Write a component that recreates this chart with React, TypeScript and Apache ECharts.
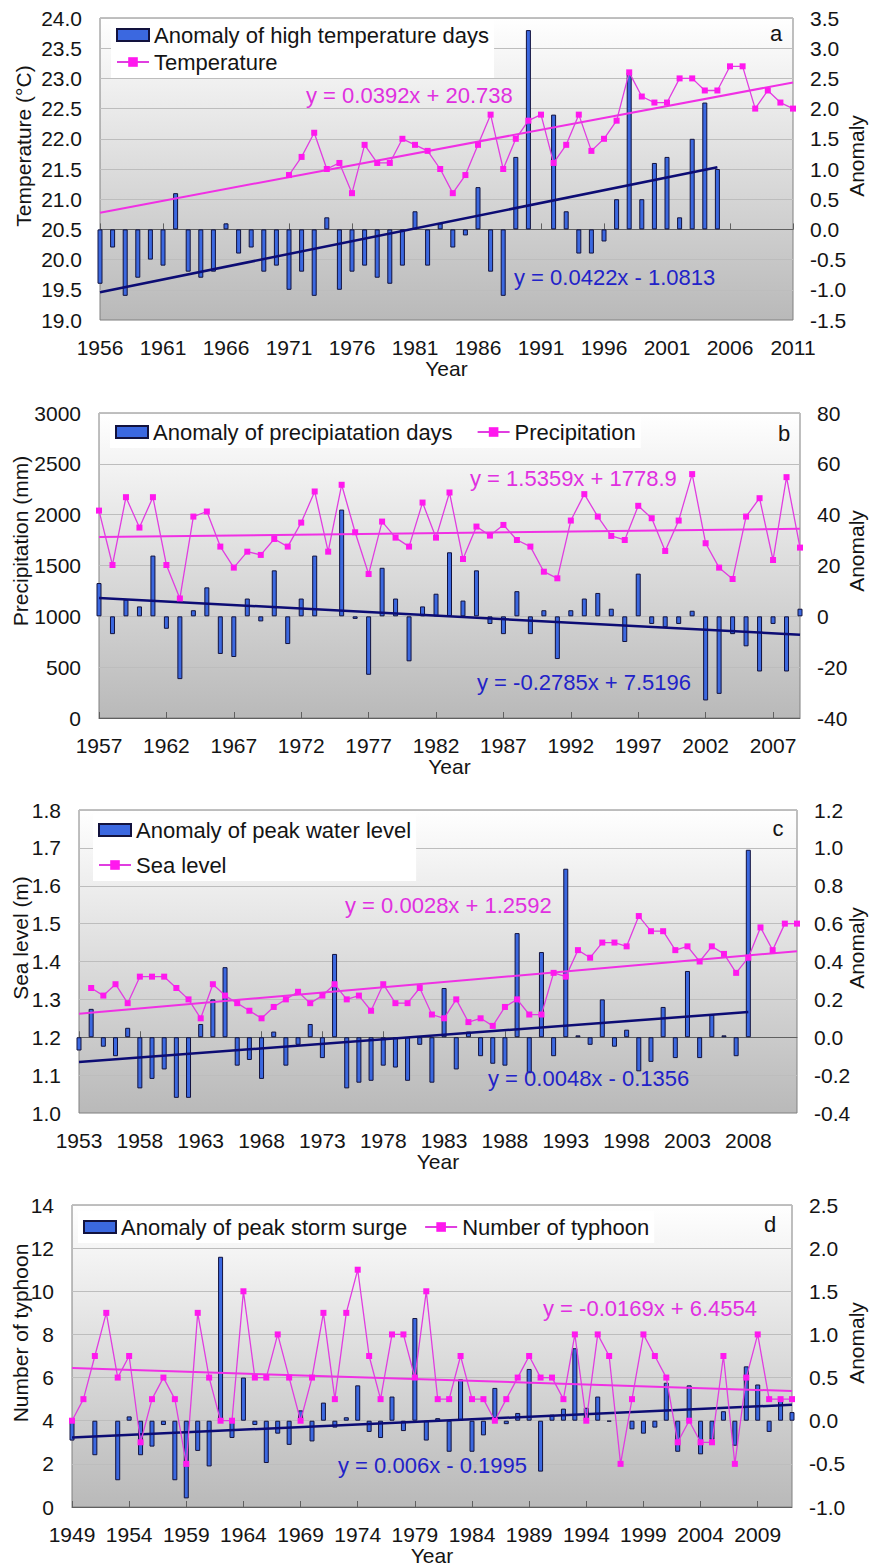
import React, { useEffect, useRef } from "react";
import * as echarts from "echarts";

const FONT = '"Liberation Sans", Arial, Helvetica, sans-serif';

const yearRange = (from: number, to: number): string[] => {
  const out: string[] = [];
  for (let y = from; y <= to; y++) out.push(String(y));
  return out;
};

// ---- a: high temperature days / mean temperature ----
const yearsA = yearRange(1956, 2011);
const tempAnomaly = [
  -0.9, -0.3, -1.1, -0.8, -0.5, -0.6, 0.6, -0.7, -0.8, -0.7,
  0.1, -0.4, -0.3, -0.7, -0.6, -1.0, -0.7, -1.1, 0.2, -1.0,
  -0.7, -0.6, -0.8, -0.9, -0.6, 0.3, -0.6, 0.1, -0.3, -0.1,
  0.7, -0.7, -1.1, 1.2, 3.3, 0, 1.9, 0.3, -0.4, -0.4,
  -0.2, 0.5, 2.6, 0.5, 1.1, 1.2, 0.2, 1.5, 2.1, 1.0,
];
const temperature = [
  null, null, null, null, null, null, null, null, null, null,
  null, null, null, null, null,
  21.4, 21.7, 22.1, 21.5, 21.6, 21.1, 21.9, 21.6, 21.6, 22.0,
  21.9, 21.8, 21.5, 21.1, 21.4, 21.9, 22.4, 21.5, 22.0, 22.3,
  22.4, 21.6, 21.9, 22.4, 21.8, 22.0, 22.3, 23.1, 22.7, 22.6,
  22.6, 23.0, 23.0, 22.8, 22.8, 23.2, 23.2, 22.5, 22.8, 22.6,
  22.5,
];

// ---- b: precipitation days / precipitation ----
const yearsB = yearRange(1957, 2009);
const precipAnomaly = [
  13.1, -7.0, 6.6, 3.9, 23.9, -4.9, -24.7, 2.4, 11.4, -14.8,
  -16.0, 7.0, -2.0, 18.1, -10.9, 7.0, 23.9, 0, 42.0, -1.0,
  -23.0, 19.1, 7.0, -17.7, 3.9, 8.9, 25.2, 6.2, 18.1, -3.0,
  -7.0, 9.9, -7.0, 2.4, -16.8, 2.4, 7.0, 9.2, 3.0, -10.1,
  16.8, -3.0, -4.3, -3.0, 2.2, -33.1, -30.5, -7.0, -11.8, -21.7,
  -3.0, -21.7, 3.0,
];
const precipitation = [
  2040, 1505, 2172, 1873, 2172, 1505, 1176, 1981, 2031, 1686,
  1479, 1636, 1604, 1761, 1686, 1922, 2228, 1636, 2294, 1827,
  1416, 1932, 1774, 1686, 2119, 1774, 2218, 1564, 1883, 1794,
  1899, 1751, 1686, 1439, 1374, 1942, 2202, 1981, 1791, 1751,
  2087, 1965, 1643, 1942, 2399, 1719, 1479, 1367, 1981, 2162,
  1554, 2369, 1676,
];

// ---- c: peak water level / sea level ----
const yearsC = yearRange(1953, 2012);
const waterAnomaly = [
  -0.07, 0.15, -0.05, -0.10, 0.05, -0.27, -0.22, -0.17, -0.32, -0.32,
  0.07, 0.20, 0.37, -0.15, -0.12, -0.22, 0.03, -0.15, -0.04, 0.07,
  -0.11, 0.44, -0.27, -0.24, -0.23, -0.15, -0.16, -0.23, -0.04, -0.24,
  0.26, -0.17, 0.03, -0.10, -0.14, -0.15, 0.55, -0.19, 0.45, -0.10,
  0.89, 0.01, -0.04, 0.20, -0.05, 0.04, -0.18, -0.13, 0.16, -0.11,
  0.35, -0.11, 0.12, 0.01, -0.10, 0.99,
];
const seaLevel = [
  null,
  1.33, 1.31, 1.34, 1.29, 1.36, 1.36, 1.36, 1.33, 1.30, 1.25,
  1.34, 1.31, 1.29, 1.27, 1.25, 1.28, 1.30, 1.32, 1.29, 1.31,
  1.34, 1.30, 1.31, 1.27, 1.34, 1.29, 1.29, 1.33, 1.26, 1.25,
  1.30, 1.24, 1.25, 1.23, 1.28, 1.30, 1.26, 1.26, 1.37, 1.36,
  1.43, 1.41, 1.45, 1.45, 1.44, 1.52, 1.48, 1.48, 1.43, 1.44,
  1.40, 1.44, 1.42, 1.37, 1.41, 1.49, 1.43, 1.50, 1.50,
];

// ---- d: peak storm surge / typhoon count ----
const yearsD = yearRange(1949, 2012);
const surgeAnomaly = [
  -0.23, 0, -0.40, 0, -0.69, 0.05, -0.40, -0.30, -0.05, -0.69,
  -0.90, -0.35, -0.53, 1.90, -0.20, 0.50, -0.05, -0.49, -0.15, -0.28,
  0.12, -0.24, 0.21, -0.08, 0.04, 0.41, -0.13, -0.20, 0.28, -0.12,
  1.19, -0.23, 0.03, -0.36, 0.48, -0.36, -0.17, 0.38, -0.04, 0.09,
  0.60, -0.59, 0.07, 0.14, 0.84, 0.15, 0.28, -0.01, 0, -0.10,
  -0.15, -0.08, 0.44, -0.36, 0.41, -0.39, -0.22, 0.11, -0.29, 0.63,
  0.42, -0.13, 0.25, 0.10,
];
const typhoons = [
  4, 5, 7, 9, 6, 7, 3, 5, 6, 5,
  2, 9, 6, 4, 4, 10, 6, 6, 8, 6,
  4, 6, 9, 5, 9, 11, 7, 5, 8, 8,
  6, 10, 5, 5, 7, 5, 5, 4, 5, 6,
  7, 6, 6, 5, 8, 4, 8, 7, 2, 5,
  8, 7, 6, 3, 4, 3, 3, 7, 2, 6,
  8, 5, 5, 5,
];

// Linear fits printed on each panel: [slope, intercept], x = 1 at first year
const fitTemperature = [0.0392, 20.738];
const fitTempAnomaly = [0.0422, -1.0813];
const fitPrecipitation = [1.5359, 1778.9];
const fitPrecipAnomaly = [-0.2785, 7.5196];
const fitSeaLevel = [0.0028, 1.2592];
const fitWaterAnomaly = [0.0048, -0.1356];
const fitTyphoon = [-0.0169, 6.4554];
const fitSurgeAnomaly = [0.006, -0.1995];

const BAR = "#3b68e0";
const BAR_EDGE = "#12123e";
const LINE = "#e03ee0";
const MARKER = "#ff18ee";
const PINK_TREND = "#f030e4";
const BLUE_TREND = "#0c0c74";
const PINK_TEXT = "#e030e0";
const BLUE_TEXT = "#2222c8";
const TEXT = "#141414";

type Panel = {
  letter: string;
  grid: { left: number; top: number; width: number; height: number };
  years: string[];
  bars: (number | null)[];
  barName: string;
  line: (number | null)[];
  lineName: string;
  leftAxis: { min: number; max: number; interval: number; digits: number };
  rightAxis: { min: number; max: number; interval: number; digits: number };
  lineFit: number[];
  lineFitRange: [number, number];
  barFit: number[];
  barFitRange: [number, number];
  lineEq: { text: string; x: number; y: number };
  barEq: { text: string; x: number; y: number };
  yTitle: string;
  yTitleX: number;
  legend: { orient: "vertical" | "horizontal"; left: number; top: number; itemGap: number };
  letterPos: [number, number];
};

const panels: Panel[] = [
  {
    letter: "a",
    grid: { left: 100, top: 18, width: 693, height: 302 },
    years: yearsA,
    bars: tempAnomaly,
    barName: "Anomaly of high temperature days",
    line: temperature,
    lineName: "Temperature",
    leftAxis: { min: 19, max: 24, interval: 0.5, digits: 1 },
    rightAxis: { min: -1.5, max: 3.5, interval: 0.5, digits: 1 },
    lineFit: fitTemperature,
    lineFitRange: [0, 55],
    barFit: fitTempAnomaly,
    barFitRange: [0, 49],
    lineEq: { text: "y = 0.0392x + 20.738", x: 306, y: 95 },
    barEq: { text: "y = 0.0422x - 1.0813", x: 514, y: 277 },
    yTitle: "Temperature (°C)",
    yTitleX: 23,
    legend: { orient: "vertical", left: 111, top: 19, itemGap: 5 },
    letterPos: [776, 33],
  },
  {
    letter: "b",
    grid: { left: 99, top: 413, width: 701, height: 305 },
    years: yearsB,
    bars: precipAnomaly,
    barName: "Anomaly of precipiatation days",
    line: precipitation,
    lineName: "Precipitation",
    leftAxis: { min: 0, max: 3000, interval: 500, digits: 0 },
    rightAxis: { min: -40, max: 80, interval: 20, digits: 0 },
    lineFit: fitPrecipitation,
    lineFitRange: [0, 52],
    barFit: fitPrecipAnomaly,
    barFitRange: [0, 52],
    lineEq: { text: "y = 1.5359x + 1778.9", x: 470, y: 478 },
    barEq: { text: "y = -0.2785x + 7.5196", x: 477, y: 682 },
    yTitle: "Precipitation (mm)",
    yTitleX: 20,
    legend: { orient: "horizontal", left: 110, top: 416, itemGap: 24 },
    letterPos: [784, 433],
  },
  {
    letter: "c",
    grid: { left: 79, top: 810, width: 718, height: 303 },
    years: yearsC,
    bars: waterAnomaly,
    barName: "Anomaly of peak water level",
    line: seaLevel,
    lineName: "Sea level",
    leftAxis: { min: 1.0, max: 1.8, interval: 0.1, digits: 1 },
    rightAxis: { min: -0.4, max: 1.2, interval: 0.2, digits: 1 },
    lineFit: fitSeaLevel,
    lineFitRange: [0, 59],
    barFit: fitWaterAnomaly,
    barFitRange: [0, 55],
    lineEq: { text: "y = 0.0028x + 1.2592", x: 345, y: 905 },
    barEq: { text: "y = 0.0048x - 0.1356", x: 488, y: 1078 },
    yTitle: "Sea level (m)",
    yTitleX: 20,
    legend: { orient: "vertical", left: 93, top: 814, itemGap: 13 },
    letterPos: [778, 828],
  },
  {
    letter: "d",
    grid: { left: 72, top: 1205, width: 720, height: 302 },
    years: yearsD,
    bars: surgeAnomaly,
    barName: "Anomaly of peak storm surge",
    line: typhoons,
    lineName: "Number of typhoon",
    leftAxis: { min: 0, max: 14, interval: 2, digits: 0 },
    rightAxis: { min: -1.0, max: 2.5, interval: 0.5, digits: 1 },
    lineFit: fitTyphoon,
    lineFitRange: [0, 63],
    barFit: fitSurgeAnomaly,
    barFitRange: [0, 63],
    lineEq: { text: "y = -0.0169x + 6.4554", x: 543, y: 1308 },
    barEq: { text: "y = 0.006x - 0.1995", x: 338, y: 1465 },
    yTitle: "Number of typhoon",
    yTitleX: 20,
    legend: { orient: "horizontal", left: 78, top: 1211, itemGap: 17 },
    letterPos: [770, 1224],
  },
];

const fitSegment = (years: string[], fit: number[], range: [number, number]) =>
  range.map((i) => [years[i], fit[0] * (i + 1) + fit[1]]);

// zero-height bars get no outline so they leave no stray dash on the zero line
const barItems = (values: (number | null)[]) =>
  values.map((v) => (v === 0 ? { value: 0, itemStyle: { borderWidth: 0 } } : v));

function buildOption() {
  const grids: any[] = [];
  const xAxes: any[] = [];
  const yAxes: any[] = [];
  const series: any[] = [];
  const legends: any[] = [];
  const graphics: any[] = [];

  panels.forEach((p, i) => {
    grids.push({
      ...p.grid,
      show: true,
      backgroundColor: {
        type: "linear",
        x: 0,
        y: 0,
        x2: 0,
        y2: 1,
        colorStops: [
          { offset: 0, color: "#ffffff" },
          { offset: 1, color: "#b9b9b9" },
        ],
      },
      borderColor: "#808080",
      borderWidth: 1,
    });

    xAxes.push({
      type: "category",
      gridIndex: i,
      data: p.years,
      boundaryGap: false,
      axisLine: { show: true, lineStyle: { color: "#606060", width: 1 } },
      axisTick: { show: true, inside: true, interval: 4, length: 6, lineStyle: { color: "#606060" } },
      axisLabel: { interval: 4, margin: 17, fontSize: 21, color: TEXT, fontFamily: FONT },
      splitLine: { show: false },
    });

    const fmt = (digits: number) => (v: number) => v.toFixed(digits);
    yAxes.push({
      type: "value",
      gridIndex: i,
      position: "left",
      min: p.leftAxis.min,
      max: p.leftAxis.max,
      interval: p.leftAxis.interval,
      axisLine: { show: false },
      axisTick: { show: false },
      axisLabel: { margin: 18, fontSize: 21, color: TEXT, fontFamily: FONT, formatter: fmt(p.leftAxis.digits) },
      splitLine: { show: true, lineStyle: { color: "#bdbdbd", width: 1 } },
    });
    yAxes.push({
      type: "value",
      gridIndex: i,
      position: "right",
      min: p.rightAxis.min,
      max: p.rightAxis.max,
      interval: p.rightAxis.interval,
      axisLine: { show: false },
      axisTick: { show: false },
      axisLabel: { margin: 17, fontSize: 21, color: TEXT, fontFamily: FONT, formatter: fmt(p.rightAxis.digits) },
      splitLine: { show: false },
    });

    series.push({
      type: "bar",
      name: p.barName,
      xAxisIndex: i,
      yAxisIndex: 2 * i + 1,
      data: barItems(p.bars),
      barWidth: 5,
      clip: true,
      itemStyle: { color: BAR, borderColor: BAR_EDGE, borderWidth: 1 },
      z: 2,
    });
    series.push({
      type: "line",
      name: p.lineName + " trend",
      xAxisIndex: i,
      yAxisIndex: 2 * i,
      data: fitSegment(p.years, p.lineFit, p.lineFitRange),
      symbol: "none",
      silent: true,
      lineStyle: { color: PINK_TREND, width: 2 },
      z: 3,
    });
    series.push({
      type: "line",
      name: p.barName + " trend",
      xAxisIndex: i,
      yAxisIndex: 2 * i + 1,
      data: fitSegment(p.years, p.barFit, p.barFitRange),
      symbol: "none",
      silent: true,
      lineStyle: { color: BLUE_TREND, width: 2.5 },
      z: 3,
    });
    series.push({
      type: "line",
      name: p.lineName,
      xAxisIndex: i,
      yAxisIndex: 2 * i,
      data: p.line,
      symbol: "rect",
      symbolSize: 6,
      lineStyle: { color: LINE, width: 1.3 },
      itemStyle: { color: MARKER },
      z: 4,
    });

    legends.push({
      orient: p.legend.orient,
      left: p.legend.left,
      top: p.legend.top,
      itemGap: p.legend.itemGap,
      itemWidth: 32,
      itemHeight: 12,
      padding: [5, 5, 5, 5],
      backgroundColor: "#ffffff",
      selectedMode: false,
      data: [{ name: p.barName, icon: "rect" }, { name: p.lineName }],
      textStyle: { fontSize: 22, color: TEXT, fontFamily: FONT },
    });

    const g = p.grid;
    const font22 = `22px ${FONT}`;
    graphics.push(
      {
        type: "text",
        x: p.lineEq.x,
        y: p.lineEq.y,
        z: 50,
        style: { text: p.lineEq.text, fill: PINK_TEXT, font: font22, align: "left", verticalAlign: "middle" },
      },
      {
        type: "text",
        x: p.barEq.x,
        y: p.barEq.y,
        z: 50,
        style: { text: p.barEq.text, fill: BLUE_TEXT, font: font22, align: "left", verticalAlign: "middle" },
      },
      {
        type: "text",
        x: p.letterPos[0],
        y: p.letterPos[1],
        z: 50,
        style: { text: p.letter, fill: TEXT, font: font22, align: "center", verticalAlign: "middle" },
      },
      {
        type: "text",
        x: g.left + g.width / 2,
        y: g.top + g.height + 48,
        z: 50,
        style: { text: "Year", fill: TEXT, font: `21px ${FONT}`, align: "center", verticalAlign: "middle" },
      },
      {
        type: "text",
        x: p.yTitleX,
        y: g.top + 128,
        rotation: Math.PI / 2,
        z: 50,
        style: { text: p.yTitle, fill: TEXT, font: `21px ${FONT}`, align: "center", verticalAlign: "middle" },
      },
      {
        type: "text",
        x: 856,
        y: g.top + 138,
        rotation: Math.PI / 2,
        z: 50,
        style: { text: "Anomaly", fill: TEXT, font: `21px ${FONT}`, align: "center", verticalAlign: "middle" },
      }
    );
  });

  return {
    animation: false,
    backgroundColor: "#ffffff",
    textStyle: { fontFamily: FONT },
    grid: grids,
    xAxis: xAxes,
    yAxis: yAxes,
    legend: legends,
    series,
    graphic: { elements: graphics },
  };
}

export default function App() {
  const ref = useRef<HTMLDivElement>(null);

  useEffect(() => {
    document.body.style.margin = "0";
    if (!ref.current) return;
    const chart = echarts.init(ref.current, undefined, { renderer: "svg" });
    chart.setOption(buildOption() as any);
    return () => chart.dispose();
  }, []);

  return <div ref={ref} style={{ width: 869, height: 1565 }} />;
}
